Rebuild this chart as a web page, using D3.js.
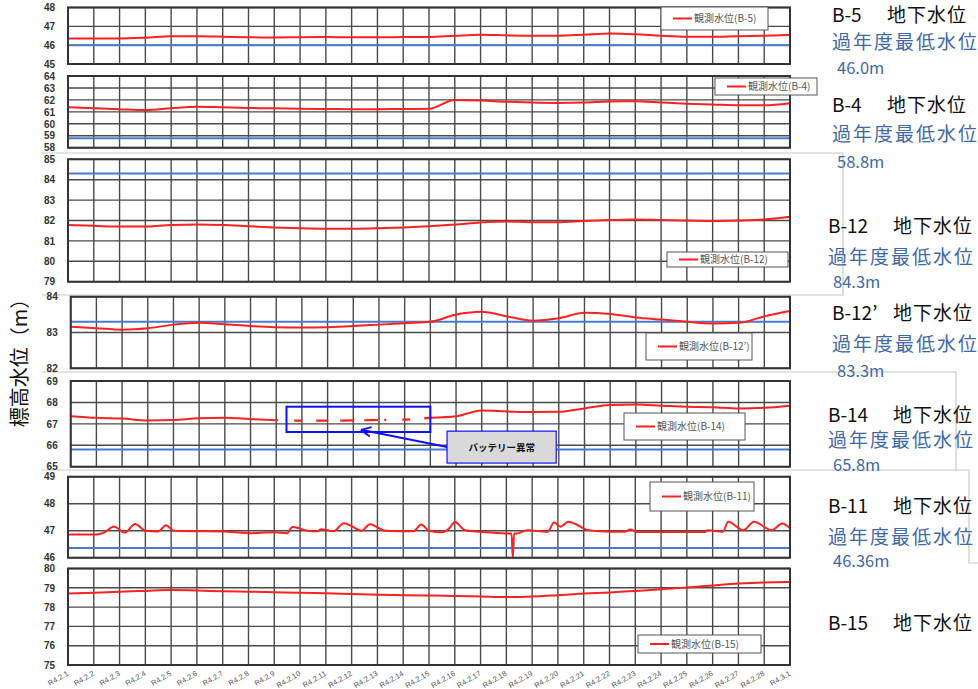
<!DOCTYPE html>
<html>
<head>
<meta charset="utf-8">
<script src="https://cdn.jsdelivr.net/npm/d3@7"></script>
<style>
body { margin: 0; background: #fff; }
svg { display: block; }
</style>
</head>
<body>
<svg id="chart" width="978" height="689"></svg>
<script>
// x labels (R4.2.1 ... R4.3.1)
const dateLabels = ["R4.2.1","R4.2.2","R4.2.3","R4.2.4","R4.2.5","R4.2.6","R4.2.7","R4.2.8","R4.2.9","R4.2.10",
  "R4.2.11","R4.2.12","R4.2.13","R4.2.14","R4.2.15","R4.2.16","R4.2.17","R4.2.18","R4.2.19","R4.2.20",
  "R4.2.21","R4.2.22","R4.2.23","R4.2.24","R4.2.25","R4.2.26","R4.2.27","R4.2.28","R4.3.1"];

const wellNames = ["B-5", "B-4", "B-12", "B-12’", "B-14", "B-11", "B-15"];
const yDomains = [[45, 48], [58, 64], [79, 85], [82, 84], [65, 69], [46, 49], [75, 80]];
const pastMinLevels = [46.0, 58.8, 84.3, 83.3, 65.8, 46.36, null];
const pastMinLabels = ["46.0m", "58.8m", "84.3m", "83.3m", "65.8m", "46.36m", null];

// daily observed levels (one per date label)
const b5Level = [46.36,46.36,46.36,46.40,46.47,46.47,46.45,46.42,46.41,46.42,46.43,46.42,46.42,46.43,46.44,
  46.50,46.55,46.52,46.50,46.50,46.55,46.62,46.58,46.50,46.45,46.45,46.48,46.50,46.54];
const b4Level = [61.38,61.30,61.22,61.15,61.30,61.43,61.38,61.32,61.30,61.26,61.24,61.22,61.22,61.24,61.26,
  62.00,61.95,61.85,61.78,61.75,61.78,61.86,61.88,61.78,61.68,61.62,61.55,61.55,61.72];
const b12Level = [81.78,81.74,81.70,81.70,81.78,81.80,81.78,81.72,81.66,81.62,81.60,81.60,81.62,81.66,81.72,
  81.80,81.90,81.95,81.92,81.92,81.98,82.02,82.05,82.02,82.00,81.98,82.00,82.05,82.18];
const b12dLevel = [83.16,83.12,83.08,83.12,83.22,83.27,83.23,83.18,83.15,83.14,83.15,83.18,83.22,83.26,83.30,
  83.50,83.58,83.45,83.33,83.40,83.55,83.52,83.42,83.36,83.30,83.25,83.27,83.45,83.60];
const b14Level = [67.36,67.28,67.25,67.16,67.18,67.26,67.28,67.22,67.17,67.15,67.15,67.16,67.18,67.20,67.28,
  67.35,67.62,67.58,67.55,67.56,67.72,67.88,67.90,67.85,67.80,67.78,67.72,67.75,67.85];
const b15Level = [78.70,78.74,78.80,78.84,78.88,78.86,78.82,78.80,78.77,78.74,78.72,78.68,78.64,78.62,78.60,
  78.58,78.55,78.52,78.55,78.62,78.70,78.76,78.84,78.92,79.02,79.12,79.22,79.28,79.30];

// B-11 has short spikes, so it is read at finer steps (day index, level)
const b11Days = [0,1.1,1.4,1.78,2.2,2.6,3.0,3.5,3.8,4.1,5,6,7,8,8.5,8.7,9.3,9.7,9.8,10.3,10.7,11.4,11.7,12.3,13.4,13.7,
  14,14.5,14.8,15.0,15.4,16,17,17.2,17.25,17.3,17.4,17.8,18.6,18.85,19.1,19.4,19.7,20.1,20.6,21.6,21.8,22.1,
  23,24,24.7,24.8,25.4,25.6,26.2,26.6,27.3,27.7,28];
const b11Level = [46.86,46.86,46.93,47.16,46.93,47.25,47.00,46.97,47.20,47.00,46.98,46.97,46.91,46.94,46.91,47.14,
  47.00,46.98,47.05,46.98,47.28,47.00,47.24,47.00,46.98,47.23,47.00,46.94,47.10,47.32,47.02,46.96,46.90,46.90,
  45.98,46.90,46.90,47.02,46.96,47.30,47.15,47.33,47.24,47.04,46.98,46.96,47.04,46.95,46.95,46.95,46.95,47.02,
  46.96,47.33,47.02,47.33,47.02,47.27,47.09];

// battery anomaly on B-14 (dates, by index)
const batteryDays = [8, 14];

const series = [
  b5Level.map((v, i) => [i, v]),
  b4Level.map((v, i) => [i, v]),
  b12Level.map((v, i) => [i, v]),
  b12dLevel.map((v, i) => [i, v]),
  b14Level.map((v, i) => [i, v]),
  b11Days.map((d, i) => [d, b11Level[i]]),
  b15Level.map((v, i) => [i, v])
];

// layout: plot boxes, legend boxes, right-hand text baselines
const panels = [
  { l: 68, t: 7.5, r: 790, b: 64,   leg: [661, 7, 107, 23] },
  { l: 68, t: 76,  r: 790, b: 147.7, leg: [715, 78, 102, 17] },
  { l: 68, t: 159.3, r: 790, b: 281.7, leg: [667, 252, 121, 15] },
  { l: 70.7, t: 296.7, r: 790, b: 368.3, leg: [646, 333, 106, 27] },
  { l: 70.7, t: 381, r: 790, b: 466.7, leg: [624, 413, 121, 27] },
  { l: 68, t: 476.7, r: 790, b: 557.7, leg: [650, 482, 104, 29] },
  { l: 68, t: 568.5, r: 790, b: 665, leg: [638, 635, 123, 18] }
];
const sideText = [
  { x: 832, k: 887, t: 22,  m: 49,  v: 74,  vx: 837 },
  { x: 832, k: 887, t: 112, m: 141, v: 168, vx: 837 },
  { x: 828, k: 893, t: 233, m: 264, v: 288, vx: 833 },
  { x: 832, k: 893, t: 320, m: 351, v: 377, vx: 837 },
  { x: 828, k: 893, t: 422, m: 447, v: 471, vx: 833 },
  { x: 828, k: 893, t: 513, m: 544, v: 567, vx: 833 },
  { x: 828, k: 893, t: 630, m: null, v: null, vx: 833 }
];

const svg = d3.select("#chart");
const jp = "'Noto Sans CJK JP', 'Noto Sans', sans-serif";

// light frames of the pasted chart images
const frames = [
  [[42, 153], [843, 153], [843, 295], [42, 295]],
  [[42, 372], [956, 372], [956, 470], [969, 470], [969, 563], [978, 563]],
  [[42, 470], [956, 470]]
];
svg.selectAll(".frame").data(frames).enter().append("polyline")
  .attr("points", d => d.map(p => p.join(",")).join(" "))
  .attr("fill", "none").attr("stroke", "#c8c8c8").attr("stroke-width", 1.2);

panels.forEach((p, k) => {
  const g = svg.append("g");
  const x = d3.scaleLinear().domain([0, 28]).range([p.l, p.r]);
  const y = d3.scaleLinear().domain(yDomains[k]).range([p.b, p.t]);
  const yTicks = d3.range(yDomains[k][0], yDomains[k][1] + 1);

  g.append("rect").attr("x", p.l).attr("y", p.t).attr("width", p.r - p.l).attr("height", p.b - p.t)
    .attr("fill", "#fff");

  // grid
  g.selectAll(".vg").data(d3.range(29)).enter().append("line")
    .attr("x1", d => x(d)).attr("x2", d => x(d)).attr("y1", p.t).attr("y2", p.b)
    .attr("stroke", "#4a4a4a").attr("stroke-width", 1.4);
  g.selectAll(".hg").data(yTicks).enter().append("line")
    .attr("x1", p.l).attr("x2", p.r).attr("y1", d => y(d)).attr("y2", d => y(d))
    .attr("stroke", "#4a4a4a").attr("stroke-width", 1.4);

  // y tick labels
  const ax = g.append("g").attr("transform", `translate(${p.l - 10},0)`)
    .call(d3.axisLeft(y).tickValues(yTicks).tickSize(0).tickFormat(d3.format("d")));
  ax.select(".domain").remove();
  ax.selectAll("text").attr("font-family", "'Liberation Sans', Arial, sans-serif")
    .attr("font-size", 10).attr("font-weight", "bold").attr("fill", "#333").attr("dx", 0);

  // past minimum level
  if (pastMinLevels[k] != null) {
    g.append("line").attr("x1", p.l).attr("x2", p.r)
      .attr("y1", y(pastMinLevels[k])).attr("y2", y(pastMinLevels[k]))
      .attr("stroke", "#4a7ad0").attr("stroke-width", 2);
  }

  // observed level
  const line = d3.line().x(d => x(d[0])).y(d => y(d[1])).curve(d3.curveMonotoneX);
  if (k === 4) {
    const [a, b] = batteryDays;
    g.append("path").datum(series[k].filter(d => d[0] <= a))
      .attr("d", line).attr("fill", "none").attr("stroke", "#ff2020").attr("stroke-width", 2);
    g.append("path").datum(series[k].filter(d => d[0] >= b))
      .attr("d", line).attr("fill", "none").attr("stroke", "#ff2020").attr("stroke-width", 2);
    g.append("path").datum(series[k].filter(d => d[0] >= a && d[0] <= b))
      .attr("d", line).attr("fill", "none").attr("stroke", "#ff2020").attr("stroke-width", 2.2)
      .attr("stroke-dasharray", "2,16,8,14,12,12,14,10,14,6");
  } else {
    g.append("path").datum(series[k]).attr("d", line)
      .attr("fill", "none").attr("stroke", "#ff2020").attr("stroke-width", 2);
  }

  // border
  g.append("rect").attr("x", p.l).attr("y", p.t).attr("width", p.r - p.l).attr("height", p.b - p.t)
    .attr("fill", "none").attr("stroke", "#333").attr("stroke-width", 2);

  // legend
  const [lx, ly, lw, lh] = p.leg;
  const lg = g.append("g");
  lg.append("rect").attr("x", lx).attr("y", ly).attr("width", lw).attr("height", lh)
    .attr("fill", "#fff").attr("stroke", "#555").attr("stroke-width", 1);
  lg.append("line").attr("x1", lx + 12).attr("x2", lx + 31).attr("y1", ly + lh / 2).attr("y2", ly + lh / 2)
    .attr("stroke", "#ff2020").attr("stroke-width", 2);
  lg.append("text").attr("x", lx + 33).attr("y", ly + lh / 2 + 3.5)
    .attr("font-family", jp).attr("font-size", 10).attr("fill", "#555")
    .text(`観測水位(${wellNames[k]})`);

  // x labels on bottom panel
  if (k === panels.length - 1) {
    g.selectAll(".xl").data(dateLabels).enter().append("text")
      .attr("transform", (d, i) => `translate(${x(i) + 1},${p.b + 10}) rotate(-30)`)
      .attr("text-anchor", "end")
      .attr("font-family", "'Liberation Sans', Arial, sans-serif")
      .attr("font-size", 7.5).attr("fill", "#555")
      .text(d => d);
  }

  // battery annotation
  if (k === 4) {
    g.append("rect").attr("x", x(8.4)).attr("y", y(67.8))
      .attr("width", x(14.0) - x(8.4)).attr("height", y(66.62) - y(67.8))
      .attr("fill", "none").attr("stroke", "#1010ff").attr("stroke-width", 2);
    const bx = x(14.65), by = y(66.66), bw = x(18.9) - x(14.65), bh = y(65.17) - y(66.66);
    const tip = [x(11.3), y(66.72)];
    g.append("line").attr("x1", bx).attr("y1", by + bh / 2).attr("x2", tip[0]).attr("y2", tip[1])
      .attr("stroke", "#1010ff").attr("stroke-width", 2);
    const ang = Math.atan2(by + bh / 2 - tip[1], bx - tip[0]);
    [0.45, -0.45].forEach(da => {
      g.append("line").attr("x1", tip[0]).attr("y1", tip[1])
        .attr("x2", tip[0] + 11 * Math.cos(ang + da)).attr("y2", tip[1] + 11 * Math.sin(ang + da))
        .attr("stroke", "#1010ff").attr("stroke-width", 2);
    });
    g.append("rect").attr("x", bx).attr("y", by).attr("width", bw).attr("height", bh)
      .attr("fill", "#d9d9d9").attr("stroke", "#1010ff").attr("stroke-width", 1.2);
    g.append("text").attr("x", bx + bw / 2).attr("y", by + bh / 2 + 3.5).attr("text-anchor", "middle")
      .attr("font-family", jp).attr("font-size", 9.5).attr("font-weight", "bold").attr("fill", "#111")
      .text("バッテリー異常");
  }

  // right-hand notes
  const s = sideText[k];
  svg.append("text").attr("x", s.x).attr("y", s.t).attr("font-family", jp).attr("font-size", 19)
    .attr("fill", "#111").text(wellNames[k]);
  svg.append("text").attr("x", s.k).attr("y", s.t).attr("font-family", jp).attr("font-size", 19)
    .attr("letter-spacing", 1).attr("fill", "#111").text("地下水位");
  if (s.m != null) {
    svg.append("text").attr("x", s.x).attr("y", s.m).attr("font-family", jp).attr("font-size", 19)
      .attr("letter-spacing", 2).attr("fill", "#3f68a6").text("過年度最低水位");
    svg.append("text").attr("x", s.vx).attr("y", s.v).attr("font-family", jp).attr("font-size", 16.5)
      .attr("fill", "#3f68a6").text(pastMinLabels[k]);
  }
});

// y axis title
svg.append("text").attr("transform", "translate(18,358) rotate(-90)")
  .attr("text-anchor", "middle").attr("dominant-baseline", "central")
  .attr("font-family", jp).attr("font-size", 20).attr("fill", "#111")
  .text("標高水位（m）");
</script>
</body>
</html>
